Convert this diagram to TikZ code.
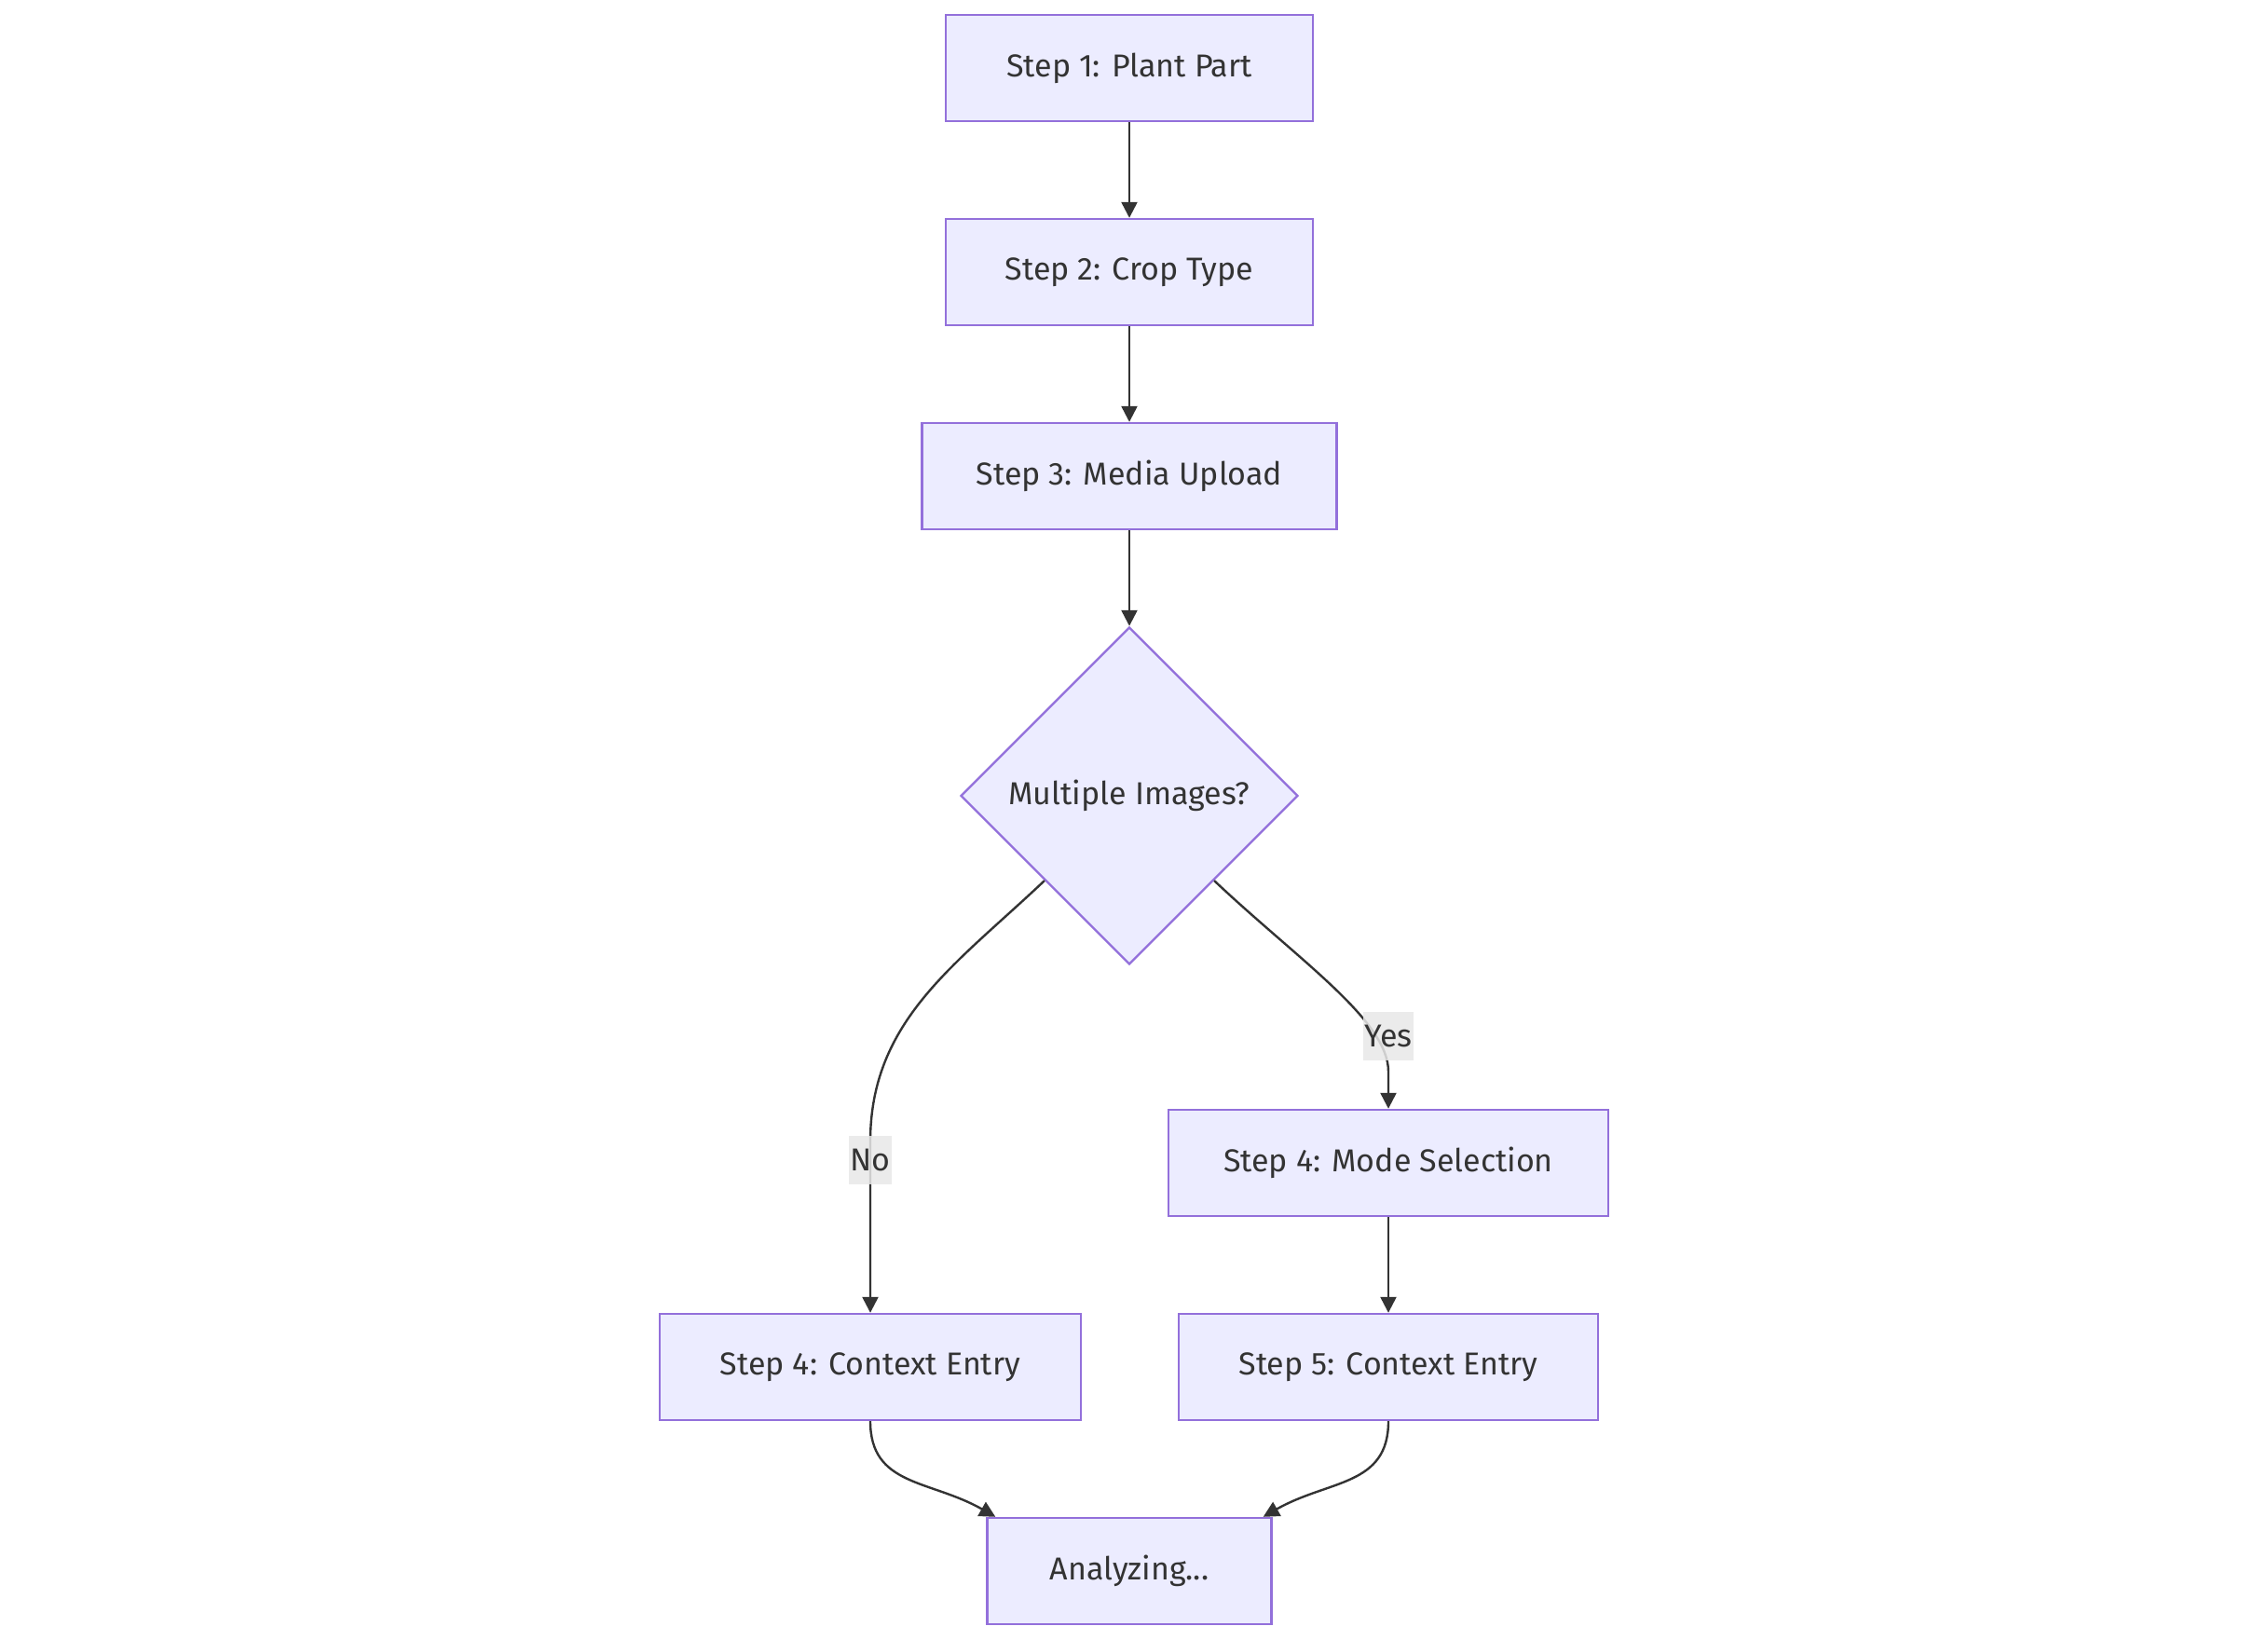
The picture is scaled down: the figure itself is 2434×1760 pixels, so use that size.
\documentclass[tikz,border=0pt]{standalone}
\usepackage{fontspec}
\setmainfont{Fira Sans}
\usetikzlibrary{shapes.geometric,arrows.meta}
\definecolor{boxfill}{HTML}{ECECFF}
\definecolor{boxline}{HTML}{9370DB}
\definecolor{ink}{HTML}{333333}
\definecolor{lblbg}{HTML}{E8E8E8}
\tikzset{
  stepbox/.style={draw=boxline, fill=boxfill, line width=2.4pt, minimum height=114pt, inner sep=0pt, text=ink, font=\fontsize{34}{40}\selectfont},
  decbox/.style={diamond, aspect=1, draw=boxline, fill=boxfill, line width=2.4pt, minimum width=362pt, minimum height=362pt, inner sep=0pt, text=ink, font=\fontsize{34}{40}\selectfont},
  arr/.style={draw=ink, line width=2.4pt, -{Triangle[length=17pt,width=17pt]}},
  lbl/.style={fill=lblbg, fill opacity=0.85, text opacity=1, text=ink, inner xsep=1pt, minimum height=52pt, font=\fontsize{34}{40}\selectfont}
}
\begin{document}
\begin{tikzpicture}[x=1pt,y=-1pt]
\useasboundingbox (0,0) rectangle (2434,1760);
\node[stepbox, minimum width=394pt] (s1) at (1212,73) {Step 1: Plant Part};
\node[stepbox, minimum width=394pt] (s2) at (1212,292) {Step 2: Crop Type};
\node[stepbox, minimum width=445pt] (s3) at (1212,511) {Step 3: Media Upload};
\node[decbox] (dia) at (1212,854) {Multiple Images?};
\node[stepbox, minimum width=472pt] (mode) at (1490,1248) {Step 4: Mode Selection};
\node[stepbox, minimum width=452pt] (c4) at (934,1467) {Step 4: Context Entry};
\node[stepbox, minimum width=450pt] (c5) at (1490,1467) {Step 5: Context Entry};
\node[stepbox, minimum width=305pt] (an) at (1212,1686) {Analyzing...};
\coordinate (nobend) at (934,1225);
\coordinate (yesbend) at (1490,1150);
\draw[arr] (s1.south) -- (s2.north);
\draw[arr] (s2.south) -- (s3.north);
\draw[arr] (s3.south) -- (dia.north);
\draw[arr] (dia.south west) .. controls +(-95,90) and +(0,-130) .. (nobend) -- node[lbl, pos=0.11] (nolbl) {No} (c4.north);
\draw[arr] (dia.south east) .. controls +(90,85) and +(0,-55) .. (yesbend) -- (mode.north);
\node[lbl] (yeslbl) at (1490,1112) {Yes};
\draw[arr] (mode.south) -- (c5.north);
\draw[arr] (c4.south) .. controls +(0,70) and +(-70,-40) .. ([xshift=10pt]an.north west);
\draw[arr] (c5.south) .. controls +(0,70) and +(70,-40) .. ([xshift=-10pt]an.north east);
\end{tikzpicture}
\end{document}
